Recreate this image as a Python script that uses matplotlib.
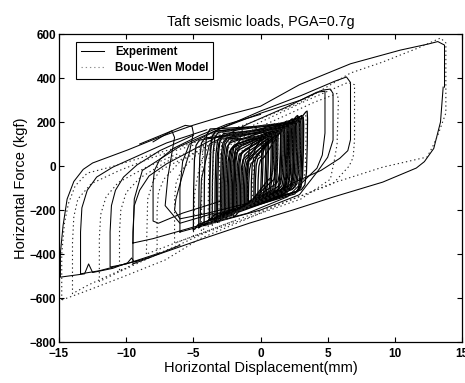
import matplotlib
matplotlib.use("Agg")
import matplotlib.pyplot as plt
import numpy as np

plt.rcParams['font.family'] = ['Liberation Sans', 'DejaVu Sans']

title = "Taft seismic loads, PGA=0.7g"
xlabel = "Horizontal Displacement(mm)"
ylabel = "Horizontal Force (kgf)"
series_names = ["Experiment", "Bouc-Wen Model"]
xticks = [-15, -10, -5, 0, 5, 10, 15]
yticks = [-800, -600, -400, -200, 0, 200, 400, 600]

# ---------- Experiment: large loops (vertex lists) ----------
exp_big_x = [13.6, 13.4, 12.9, 12.2, 11.6, 9.1, 5.4, 2.4, -0.8, -4.5, -8.2, -9.4, -9.6, -9.9,
             -11.0, -12.5, -12.8, -13.1, -14.3, -14.9, -14.9, -14.7, -14.4, -13.9, -13.2, -12.5,
             -9.9, -7.5, -5.0, -2.5, 0.0, 2.9, 6.7, 10.4, 12.5, 13.2, 13.7, 13.7]
exp_big_f = [359, 200, 80, 20, -9, -73, -141, -200, -259, -335, -414, -436, -418, -440,
             -465, -484, -445, -490, -500, -505, -395, -270, -150, -70, -15, 14,
             73, 132, 186, 232, 272, 370, 465, 527, 555, 566, 550, 359]

exp_l2_x = [-9.0, -12.0, -13.4, -13.4, -13.3, -12.9, -12.2, -11.0, -9.0, -7.0, -4.0]
exp_l2_f = [-428, -476, -490, -300, -190, -110, -50, -5, 50, 105, 165]

exp_l3_x = [-7.5, -10.0, -11.2, -11.2, -11.1, -10.8, -10.2, -9.2, -7.5, -5.0]
exp_l3_f = [-395, -445, -459, -300, -180, -110, -50, 5, 70, 140]

exp_l4_x = [-6.0, -8.5, -9.5, -9.5, -9.4, -9.0, -8.3, -7.0, -5.0, -3.0]
exp_l4_f = [-360, -422, -445, -300, -180, -110, -45, 10, 75, 140]

exp_l5_x = [-3.0, -5.8, -7.6, -8.0, -8.0, -7.9, -7.5, -6.5, -4.5, -2.5, 0.0]
exp_l5_f = [-160, -214, -260, -250, -80, -20, 30, 80, 140, 190, 235]

exp_l6_x = [-9.0, -7.0, -5.6, -5.1, -5.0, -5.3, -5.9, -6.3, -6.4, -6.0, -4.0, -1.0]
exp_l6_f = [100, 150, 185, 180, 150, 60, -60, -150, -200, -240, -215, -170]

exp_l7_x = [-8.0, -6.9, -6.6, -6.4, -6.6, -6.9, -7.1, -6.0, -3.5]
exp_l7_f = [110, 150, 160, 130, 59, -50, -180, -260, -215]

exp_r1_x = [-6.0, -6.0, -5.8, -5.3, -3.0, 0.0, 3.0, 4.6, 5.2, 5.4, 5.4, 5.0, 4.3, 2.9, 0.0, -3.0, -6.0]
exp_r1_f = [-300, -100, 20, 100, 170, 240, 300, 345, 350, 330, 118, 40, -20, -130, -200, -250, -300]

exp_r2_x = [-9.5, -9.4, -8.8, -6.0, -3.0, 0.0, 3.0, 5.5, 6.4, 6.7, 6.7, 6.5, 5.9, 4.5, 2.4, -0.8, -4.0, -8.0, -9.5]
exp_r2_f = [-350, -150, -20, 90, 170, 250, 320, 385, 405, 380, 120, 70, 35, -20, -77, -186, -260, -330, -350]

exp_r3_x = [-4.5, -4.4, -3.8, -1.0, 2.0, 4.2, 4.8, 4.8, 4.6, 4.2, 2.0, -1.0, -4.5]
exp_r3_f = [-270, -60, 100, 190, 270, 336, 340, 150, 50, -10, -140, -215, -270]

# ---------- Experiment: central small loops (left/right extremes and corner forces) ----------
cen_xl  = [-3.8, -3.4, -3.0, -2.7, -2.4, -2.1, -1.8, -1.5, -1.2, -0.9, -3.2, -1.0, -2.6, -0.5, -4.2, -2.0,
           -3.6, -2.9, -1.6, -2.2, -4.6, -5.0, -2.5, -2.0, -1.7, -1.3, -1.0, -0.7, -2.3, -1.9, -1.1, -0.4,
           -3.3, -2.8, -0.2, -1.4]
cen_xr  = [3.2, 3.0, 2.8, 2.5, 2.2, 2.0, 1.7, 1.5, 1.2, 1.0, 1.5, 3.1, 0.8, 2.6, 2.0, 3.5,
           2.4, 1.9, 2.9, 0.4, 1.2, 2.2, 0.6, 0.9, 1.3, 0.5, 2.3, 1.8, 1.6, 2.7, 0.2, 1.1,
           0.1, 2.1, 2.0, 2.5]
cen_fbl = [-245, -250, -240, -230, -220, -215, -200, -190, -180, -160, -255, -190, -235, -150, -270, -230,
           -250, -240, -200, -225, -280, -290, -230, -215, -205, -185, -175, -165, -225, -210, -180, -150,
           -250, -235, -145, -190]
cen_ftl = [150, 130, 120, 100, 90, 80, 60, 40, 30, 20, 140, 100, 110, 60, 160, 110,
           145, 120, 70, 95, 120, 110, 80, 70, 60, 40, 50, 45, 90, 85, 30, 40,
           120, 115, 35, 60]
cen_ftr = [223, 215, 230, 210, 200, 195, 180, 170, 150, 140, 190, 230, 160, 215, 205, 250,
           215, 195, 225, 150, 175, 200, 150, 160, 170, 145, 200, 185, 185, 210, 130, 160,
           140, 200, 190, 205]
cen_fbr = [-109, -120, -100, -90, -110, -100, -90, -80, -70, -60, -120, -110, -130, -95, -130, -100,
           -115, -105, -95, -140, -150, -120, -140, -130, -115, -140, -95, -100, -110, -95, -150, -120,
           -160, -105, -105, -100]

# ---------- Bouc-Wen model: large loops ----------
bw_big_x = [-14.8, -14.8, -14.6, -14.3, -13.8, -12.9, -11.2, -8.7, -5.0, -2.0, 0.0, 3.0, 6.7, 9.1, 11.7,
            13.4, 13.8, 13.8, 13.2, 12.8, 12.4, 9.1, 5.4, 2.0, -1.0, -4.5, -7.1, -10.3, -12.8, -14.8]
bw_big_f = [-609, -400, -260, -170, -90, -32, -5, 41, 105, 170, 215, 290, 423, 473, 536,
            582, 560, 241, 140, 86, 41, -5, -77, -160, -240, -330, -427, -505, -564, -609]

bw_l2_x = [-10.3, -12.8, -14.0, -14.0, -13.9, -13.6, -12.6, -10.5, -8.0, -5.0]
bw_l2_f = [-470, -540, -580, -350, -230, -150, -80, -20, 40, 95]

bw_l3_x = [-8.0, -10.5, -12.0, -12.0, -11.9, -11.5, -10.6, -8.5, -6.0]
bw_l3_f = [-410, -480, -525, -330, -220, -140, -75, -5, 60]

bw_l4_x = [-6.0, -9.0, -10.5, -10.5, -10.4, -10.0, -9.0, -7.0, -4.0]
bw_l4_f = [-360, -430, -480, -300, -200, -120, -55, 20, 100]

bw_l5_x = [-4.0, -6.5, -7.7, -7.7, -7.6, -7.2, -6.0, -4.0, -1.0]
bw_l5_f = [-300, -370, -400, -200, -120, -60, 20, 90, 160]

bw_l6_x = [-2.0, -5.0, -6.4, -6.4, -6.3, -5.9, -4.8, -2.5, 0.5]
bw_l6_f = [-250, -320, -350, -150, -80, -20, 50, 120, 190]

bw_r1_x = [-5.0, -4.9, -4.6, -4.3, -1.5, 1.5, 4.0, 5.7, 5.8, 5.7, 5.5, 5.2, 3.0, 0.0, -3.0, -5.0]
bw_r1_f = [-320, -120, -20, 40, 140, 220, 290, 330, 300, 100, 27, -60, -150, -215, -280, -320]

bw_r2_x = [-8.5, -8.4, -8.0, -7.5, -4.0, 0.0, 3.5, 6.5, 7.0, 7.0, 6.9, 6.6, 5.4, 2.0, -2.0, -5.5, -8.5]
bw_r2_f = [-400, -150, -70, -20, 90, 200, 300, 380, 370, 120, 40, 0, -80, -160, -250, -330, -400]

bwc_xl  = [-3.6, -3.1, -2.6, -2.2, -1.8, -1.4, -1.0, -2.9, -0.6, -3.9, -4.4]
bwc_xr  = [3.0, 2.7, 2.4, 2.0, 1.7, 1.3, 1.0, 1.2, 2.9, 2.2, 3.4]
bwc_fbl = [-270, -255, -245, -230, -215, -200, -185, -250, -175, -275, -295]
bwc_ftl = [120, 105, 95, 80, 65, 50, 35, 110, 40, 130, 135]
bwc_ftr = [210, 200, 190, 175, 165, 150, 140, 160, 205, 185, 230]
bwc_fbr = [-90, -100, -95, -85, -80, -75, -65, -120, -85, -110, -80]


def small_loop(xl, xr, fbl, ftl, ftr, fbr):
    # closed path through the read corner values, with rounded corners
    hl = ftl - fbl
    hr = ftr - fbr
    xs = [xl, xl + 0.02, xl + 0.08, xl + 0.2, xl + 0.45,
          xr - 0.35, xr - 0.12, xr - 0.03, xr, xr - 0.02, xr - 0.08, xr - 0.2, xr - 0.45,
          xl + 0.35, xl + 0.12, xl]
    fs = [fbl, fbl + 0.45 * hl, fbl + 0.8 * hl, ftl - 0.04 * hl, ftl + 0.02 * hl,
          ftr - 0.06 * hr, ftr - 0.01 * hr, ftr, ftr - 0.1 * hr, ftr - 0.45 * hr, ftr - 0.8 * hr, fbr + 0.04 * hr, fbr - 0.02 * hr,
          fbl + 0.06 * hl, fbl + 0.01 * hl, fbl]
    return xs, fs


fig = plt.figure(figsize=(4.65, 3.83), dpi=100)
ax = fig.add_axes([0.127, 0.107, 0.8665, 0.804])

exp_kw = dict(color='black', lw=0.75, solid_joinstyle='round')
bw_kw = dict(color='0.15', lw=0.8, linestyle=(0, (1.2, 2.6)))

exp_loops = [(exp_big_x, exp_big_f), (exp_l2_x, exp_l2_f), (exp_l3_x, exp_l3_f), (exp_l4_x, exp_l4_f),
             (exp_l5_x, exp_l5_f), (exp_l6_x, exp_l6_f), (exp_l7_x, exp_l7_f), (exp_r1_x, exp_r1_f),
             (exp_r2_x, exp_r2_f), (exp_r3_x, exp_r3_f)]
bw_loops = [(bw_big_x, bw_big_f), (bw_l2_x, bw_l2_f), (bw_l3_x, bw_l3_f), (bw_l4_x, bw_l4_f),
            (bw_l5_x, bw_l5_f), (bw_l6_x, bw_l6_f), (bw_r1_x, bw_r1_f), (bw_r2_x, bw_r2_f)]

for i, (xs, fs) in enumerate(exp_loops):
    ax.plot(xs, fs, label=series_names[0] if i == 0 else None, **exp_kw)
for i in range(len(cen_xl)):
    xs, fs = small_loop(cen_xl[i], cen_xr[i], cen_fbl[i], cen_ftl[i], cen_ftr[i], cen_fbr[i])
    ax.plot(xs, fs, color='black', lw=1.2 if i == 0 else 0.9)

for i, (xs, fs) in enumerate(bw_loops):
    ax.plot(xs, fs, **bw_kw)
for i in range(len(bwc_xl)):
    xs, fs = small_loop(bwc_xl[i], bwc_xr[i], bwc_fbl[i], bwc_ftl[i], bwc_ftr[i], bwc_fbr[i])
    ax.plot(xs, fs, **bw_kw)

# legend proxy for the model (lighter dotted line, as in the reference legend)
ax.plot([], [], color='0.55', lw=0.8, linestyle=(0, (1.2, 2.6)), label=series_names[1])

ax.set_xlim(-15, 15)
ax.set_ylim(-800, 600)
ax.set_xticks(xticks)
ax.set_yticks(yticks)
ax.tick_params(direction='in', top=True, right=True, length=3.5, width=0.8, labelsize=8.5)
ax.tick_params(axis='x', pad=4)
ax.tick_params(axis='y', pad=2)
for lab in ax.get_xticklabels() + ax.get_yticklabels():
    lab.set_fontweight('bold')
for sp in ax.spines.values():
    sp.set_linewidth(0.9)

ax.set_title(title, fontsize=10.3, pad=6)
ax.set_xlabel(xlabel, fontsize=10.5, labelpad=1)
ax.set_ylabel(ylabel, fontsize=10.5, labelpad=1)

leg = ax.legend(loc='upper left', bbox_to_anchor=(0.042, 0.975), fontsize=8.3, frameon=True,
                fancybox=False, framealpha=1, edgecolor='black', borderpad=0.4,
                handlelength=2.0, handletextpad=1.0, labelspacing=0.35, borderaxespad=0)
leg.get_frame().set_linewidth(0.8)
for t in leg.get_texts():
    t.set_fontweight('bold')

fig.savefig("out.png", dpi=100)
